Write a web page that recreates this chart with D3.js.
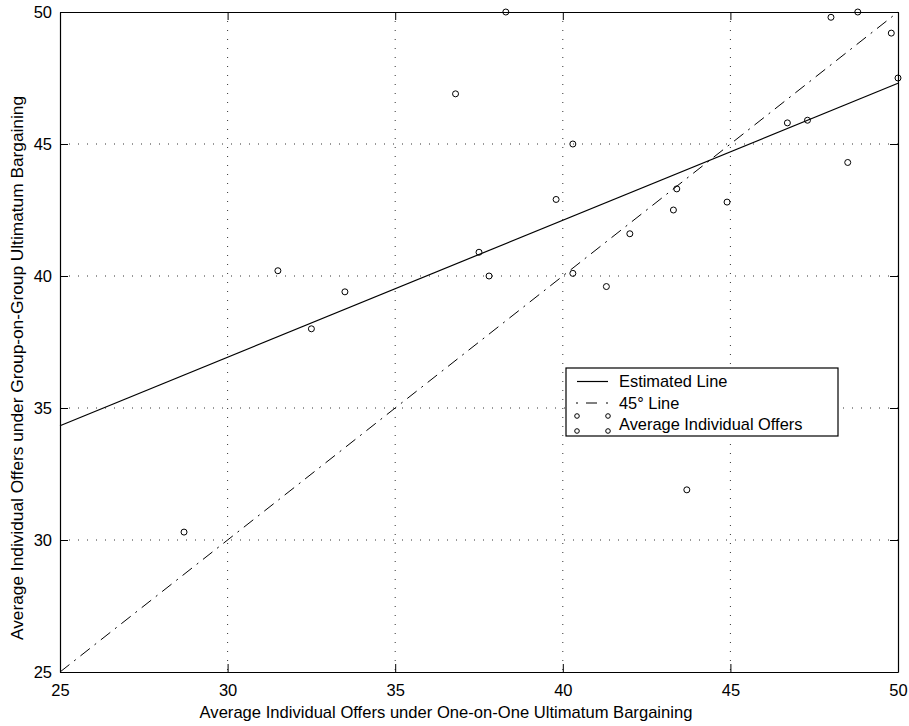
<!DOCTYPE html>
<html>
<head>
<meta charset="utf-8">
<script src="https://cdn.jsdelivr.net/npm/d3@7"></script>
<style>
  html, body { margin: 0; padding: 0; background: #fff; }
  svg text { font-family: "Liberation Sans", Arial, sans-serif; fill: #000; }
</style>
</head>
<body>
<svg id="chart" width="909" height="726"></svg>
<script>
// ---- data ----
const xTicks = [25, 30, 35, 40, 45, 50];
const yTicks = [25, 30, 35, 40, 45, 50];
const offersOneOnOne = [28.7, 31.5, 32.5, 33.5, 36.8, 37.5, 37.8, 38.3, 39.8, 40.3, 40.3, 41.3, 42.0, 43.3, 43.4, 43.7, 44.9, 46.7, 47.3, 48.0, 48.5, 48.8, 49.8, 50.0];
const offersGroup    = [30.3, 40.2, 38.0, 39.4, 46.9, 40.9, 40.0, 50.0, 42.9, 45.0, 40.1, 39.6, 41.6, 42.5, 43.3, 31.9, 42.8, 45.8, 45.9, 49.8, 44.3, 50.0, 49.2, 47.5];
const estimatedLineX = [25, 50];
const estimatedLineY = [34.33, 47.3];
const line45X = [25, 50];
const line45Y = [25, 50];
const legendLabels = ["Estimated Line", "45\u00B0 Line", "Average Individual Offers"];
const xTitle = "Average Individual Offers under One-on-One Ultimatum Bargaining";
const yTitle = "Average Individual Offers under Group-on-Group Ultimatum Bargaining";

// ---- layout ----
const svg = d3.select("#chart");
const margin = {left: 60, top: 12, right: 11, bottom: 54};
const W = 909, H = 726;
const x = d3.scaleLinear().domain([25, 50]).range([margin.left, W - margin.right]);
const y = d3.scaleLinear().domain([25, 50]).range([H - margin.bottom, margin.top]);

const gridX = xTicks.filter(v => v > 25 && v < 50);
const gridY = yTicks.filter(v => v > 25 && v < 50);

// grid
svg.append("g").selectAll("line").data(gridX).join("line")
  .attr("x1", d => x(d)).attr("x2", d => x(d))
  .attr("y1", y(50)).attr("y2", y(25))
  .attr("stroke", "#333").attr("stroke-width", 1).attr("stroke-dasharray", "1,8");
svg.append("g").selectAll("line").data(gridY).join("line")
  .attr("y1", d => y(d)).attr("y2", d => y(d))
  .attr("x1", x(25)).attr("x2", x(50))
  .attr("stroke", "#333").attr("stroke-width", 1).attr("stroke-dasharray", "1,8");

// axes (inward ticks, MATLAB style)
const tl = 8;
const axB = svg.append("g").attr("transform", `translate(0,${y(25)})`)
  .call(d3.axisBottom(x).tickValues(xTicks).tickSizeInner(-tl).tickSizeOuter(0).tickPadding(12));
const axT = svg.append("g").attr("transform", `translate(0,${y(50)})`)
  .call(d3.axisTop(x).tickValues(xTicks).tickSizeInner(-tl).tickSizeOuter(0).tickFormat(""));
const axL = svg.append("g").attr("transform", `translate(${x(25)},0)`)
  .call(d3.axisLeft(y).tickValues(yTicks).tickSizeInner(-tl).tickSizeOuter(0).tickPadding(8));
const axR = svg.append("g").attr("transform", `translate(${x(50)},0)`)
  .call(d3.axisRight(y).tickValues(yTicks).tickSizeInner(-tl).tickSizeOuter(0).tickFormat(""));
[axB, axT, axL, axR].forEach(a => {
  a.select(".domain").attr("stroke", "#000").attr("stroke-width", 1.2);
  a.selectAll(".tick line").attr("stroke", "#000");
  a.selectAll("text").style("font-size", "16.5px").attr("fill", "#000");
});
axB.selectAll("text").attr("dy", "0.71em");
axL.selectAll("text").attr("dy", "0.36em");

// lines
const lineGen = d3.line().x(d => x(d[0])).y(d => y(d[1]));
svg.append("path")
  .datum(estimatedLineX.map((v, i) => [v, estimatedLineY[i]]))
  .attr("d", lineGen).attr("fill", "none").attr("stroke", "#000").attr("stroke-width", 1.2);
svg.append("path")
  .datum(line45X.map((v, i) => [v, line45Y[i]]))
  .attr("d", lineGen).attr("fill", "none").attr("stroke", "#000").attr("stroke-width", 1)
  .attr("stroke-dasharray", "12,6,2,6");

// points
svg.append("g").selectAll("circle").data(offersOneOnOne.map((v, i) => [v, offersGroup[i]])).join("circle")
  .attr("cx", d => x(d[0])).attr("cy", d => y(d[1])).attr("r", 3)
  .attr("fill", "none").attr("stroke", "#000").attr("stroke-width", 1);

// titles
svg.append("text").attr("x", 446).attr("y", 718)
  .attr("text-anchor", "middle").style("font-size", "16.6px").text(xTitle);
svg.append("text")
  .attr("transform", `translate(23,368) rotate(-90)`)
  .attr("text-anchor", "middle").style("font-size", "17.3px").text(yTitle);

// legend
const lg = svg.append("g");
lg.append("rect").attr("x", 566).attr("y", 368).attr("width", 272).attr("height", 68)
  .attr("fill", "#fff").attr("stroke", "#000").attr("stroke-width", 1.2);
const rowY = [381.5, 403, 424.5];
lg.append("line").attr("x1", 577).attr("x2", 608).attr("y1", rowY[0]).attr("y2", rowY[0])
  .attr("stroke", "#000").attr("stroke-width", 1.2);
lg.append("line").attr("x1", 576).attr("x2", 609).attr("y1", rowY[1]).attr("y2", rowY[1])
  .attr("stroke", "#000").attr("stroke-width", 1).attr("stroke-dasharray", "2,8,11,9,2");
const legMarks = [[577, 416], [608, 416], [577, 431], [608, 431]];
lg.selectAll("circle").data(legMarks).join("circle")
  .attr("cx", d => d[0]).attr("cy", d => d[1]).attr("r", 2.3)
  .attr("fill", "none").attr("stroke", "#000").attr("stroke-width", 1);
lg.selectAll("text").data(legendLabels).join("text")
  .attr("x", 619).attr("y", (d, i) => rowY[i]).attr("dy", "0.36em")
  .style("font-size", "16.4px").text(d => d);
</script>
</body>
</html>
